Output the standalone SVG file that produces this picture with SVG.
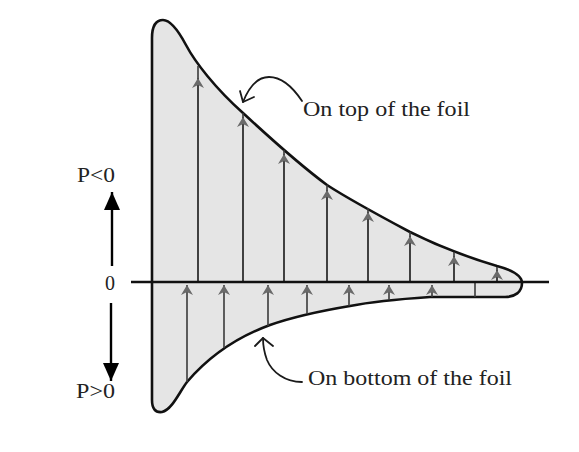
<svg xmlns="http://www.w3.org/2000/svg" width="579" height="452" viewBox="0 0 579 452">
  <defs>
    <marker id="vecHead" viewBox="0 0 10 14" refX="10" refY="7" markerWidth="10" markerHeight="14" markerUnits="userSpaceOnUse" orient="auto">
      <path d="M0,1 L10,7 L0,13 L3,7 Z" fill="#6a6a6a"/>
    </marker>
    <marker id="bigHead" viewBox="0 0 18 16" refX="18" refY="8" markerWidth="18" markerHeight="16" markerUnits="userSpaceOnUse" orient="auto">
      <path d="M0,0 L18,8 L0,16 Z" fill="#000"/>
    </marker>
  </defs>
  <style>
    .lbl { font-family: "Liberation Serif", "Times New Roman", serif; fill: #222; }
    .vec { stroke: #3a3a3a; stroke-width: 1.6; fill: none; }
    .lead { stroke: #1a1a1a; stroke-width: 1.8; fill: none; stroke-linecap: round; stroke-linejoin: round; }
  </style>
  <rect width="579" height="452" fill="#ffffff"/>

  <g id="pressure-distribution">
    <path d="M152,400 L152,38 C152,26 156,20 163,20 C170,20 178,30 186,45 C195,62 215,88 243,113 C270,138 300,165 327,185 C350,200 380,216 410,232 C440,247 470,258 497,266 C512,270 522,276 522,283 C522,292 515,297 505,297 L430,297 C400,299 370,302 350,306 C320,311 290,318 270,325 C240,336 210,355 187,382 C180,391 172,410 162,412 C155,413 152,408 152,400 Z" fill="#e5e5e5" stroke="#111" stroke-width="2.6"/>
  </g>

  <g id="pressure-vectors">
    <line class="vec" x1="198" y1="282" x2="198" y2="66"/>
    <line class="vec" x1="243" y1="282" x2="243" y2="113"/>
    <line class="vec" x1="284" y1="282" x2="284" y2="150"/>
    <line class="vec" x1="327" y1="282" x2="327" y2="185"/>
    <line class="vec" x1="368" y1="282" x2="368" y2="208"/>
    <line class="vec" x1="410" y1="282" x2="410" y2="232"/>
    <line class="vec" x1="454" y1="282" x2="454" y2="252"/>
    <line class="vec" x1="497" y1="282" x2="497" y2="267"/>
    <line class="vec" x1="198" y1="282" x2="198" y2="78" marker-end="url(#vecHead)"/>
    <line class="vec" x1="243" y1="282" x2="243" y2="117" marker-end="url(#vecHead)"/>
    <line class="vec" x1="284" y1="282" x2="284" y2="154" marker-end="url(#vecHead)"/>
    <line class="vec" x1="327" y1="282" x2="327" y2="190" marker-end="url(#vecHead)"/>
    <line class="vec" x1="368" y1="282" x2="368" y2="212" marker-end="url(#vecHead)"/>
    <line class="vec" x1="410" y1="282" x2="410" y2="236" marker-end="url(#vecHead)"/>
    <line class="vec" x1="454" y1="282" x2="454" y2="256" marker-end="url(#vecHead)"/>
    <line class="vec" x1="497" y1="282" x2="497" y2="270" marker-end="url(#vecHead)"/>

    <line class="vec" x1="187" y1="382" x2="187" y2="285" marker-end="url(#vecHead)"/>
    <line class="vec" x1="224" y1="348" x2="224" y2="285" marker-end="url(#vecHead)"/>
    <line class="vec" x1="268" y1="326" x2="268" y2="285" marker-end="url(#vecHead)"/>
    <line class="vec" x1="307" y1="314" x2="307" y2="285" marker-end="url(#vecHead)"/>
    <line class="vec" x1="349" y1="306" x2="349" y2="285" marker-end="url(#vecHead)"/>
    <line class="vec" x1="389" y1="300" x2="389" y2="285" marker-end="url(#vecHead)"/>
    <line class="vec" x1="432" y1="297" x2="432" y2="285" marker-end="url(#vecHead)"/>
    <line class="vec" x1="475" y1="297" x2="475" y2="282" stroke="#111"/>
  </g>

  <g id="axis">
    <line x1="131" y1="282" x2="549" y2="282" stroke="#111" stroke-width="2.6"/>
  </g>

  <g id="label-top">
    <text class="lbl" x="303" y="116" font-size="21" textLength="167" lengthAdjust="spacingAndGlyphs">On top of the foil</text>
  </g>
  <g id="label-bottom">
    <text class="lbl" x="308" y="385" font-size="22" textLength="204" lengthAdjust="spacingAndGlyphs">On bottom of the foil</text>
  </g>
  <g id="label-pneg">
    <text class="lbl" x="77" y="182" font-size="21" textLength="38" lengthAdjust="spacingAndGlyphs">P&lt;0</text>
  </g>
  <g id="label-zero">
    <text class="lbl" x="110" y="290" font-size="20" text-anchor="middle">0</text>
  </g>
  <g id="label-ppos">
    <text class="lbl" x="76" y="398" font-size="21" textLength="39" lengthAdjust="spacingAndGlyphs">P&gt;0</text>
  </g>

  <g id="connectors">
    <line x1="112" y1="266" x2="112" y2="192" stroke="#000" stroke-width="2.4" marker-end="url(#bigHead)"/>
    <line x1="111" y1="303" x2="111" y2="381" stroke="#000" stroke-width="2.4" marker-end="url(#bigHead)"/>
    <path class="lead" d="M302,101 C292,86 281,77 269,77 C258,77 249,87 243,102"/>
    <path class="lead" d="M240,91 L243,102 L254,97"/>
    <path class="lead" d="M302,382 C285,382 272,372 267,360 C264,352 263,345 263,338"/>
    <path class="lead" d="M255,346 L263,338 L273,346"/>
  </g>
</svg>
